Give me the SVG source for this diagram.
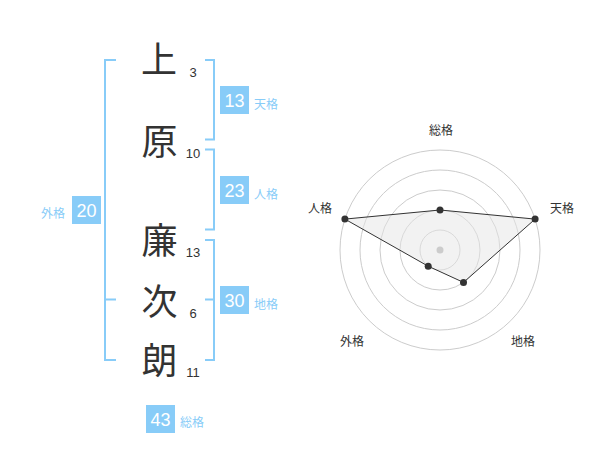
<svg xmlns="http://www.w3.org/2000/svg" width="600" height="470" viewBox="0 0 600 470">
<style>
.kanji{font-family:"Noto Sans CJK JP","Noto Sans CJK SC",sans-serif;font-size:36px;fill:#333;text-anchor:middle}
.num{font-family:"Liberation Sans",Arial,sans-serif;font-size:13px;fill:#333;text-anchor:middle}
.br{fill:none;stroke:#88CCF8;stroke-width:2}
.box{fill:#88CCF8}
.bt{font-family:"Liberation Sans",Arial,sans-serif;font-size:18px;fill:#fff;text-anchor:middle}
.lb{font-family:"Noto Sans CJK JP","Noto Sans CJK SC",sans-serif;font-size:12px;fill:#88CCF8}
.rl{font-family:"Noto Sans CJK JP","Noto Sans CJK SC",sans-serif;font-size:12px;fill:#333;text-anchor:middle}
.ring{fill:none;stroke:#ccc;stroke-width:1}
.pt{fill:#333}
</style>
<rect width="600" height="470" fill="#fff"/>
<g id="name">
<g id="c1"><text class="kanji" x="159" y="72.5">上</text><text class="num" x="193" y="77.4">3</text></g>
<g id="c2"><text class="kanji" x="159.5" y="155">原</text><text class="num" x="193" y="157.7">10</text></g>
<g id="c3"><text class="kanji" x="159.5" y="254">廉</text><text class="num" x="193" y="257.4">13</text></g>
<g id="c4"><text class="kanji" x="159.5" y="315">次</text><text class="num" x="193" y="317.7">6</text></g>
<g id="c5"><text class="kanji" x="159.5" y="374">朗</text><text class="num" x="193" y="377.4">11</text></g>
</g>
<g id="connectors">
<path class="br" d="M116,60 H105 V360 H116 M105,299.5 H116"/>
<path class="br" d="M205,60 H214 V139.5 H205"/>
<path class="br" d="M205,149.5 H214 V229.5 H205"/>
<path class="br" d="M205,240 H214 V360 H205 M205,299.5 H214"/>
</g>
<g id="tenkaku"><rect class="box" x="220" y="86" width="29" height="28"/><text class="bt" x="234.5" y="106.6">13</text><text class="lb" x="254" y="108.5">天格</text></g>
<g id="jinkaku"><rect class="box" x="220" y="176" width="29" height="28"/><text class="bt" x="234.5" y="196.6">23</text><text class="lb" x="254" y="198.5">人格</text></g>
<g id="chikaku"><rect class="box" x="220" y="286" width="29" height="28"/><text class="bt" x="234.5" y="306.6">30</text><text class="lb" x="254" y="308.5">地格</text></g>
<g id="gaikaku"><rect class="box" x="72" y="196" width="29" height="28"/><text class="bt" x="86.5" y="216.6">20</text><text class="lb" x="41" y="217.5">外格</text></g>
<g id="soukaku"><rect class="box" x="146" y="405" width="29" height="28"/><text class="bt" x="160.5" y="425.6">43</text><text class="lb" x="180" y="427">総格</text></g>
<g id="radar">
<circle class="ring" cx="440" cy="250" r="20"/>
<circle class="ring" cx="440" cy="250" r="40"/>
<circle class="ring" cx="440" cy="250" r="60"/>
<circle class="ring" cx="440" cy="250" r="80"/>
<circle class="ring" cx="440" cy="250" r="100"/>
<polygon points="440,210 535.1,219.1 463.5,282.4 428.2,266.2 344.9,219.1" fill="#e6e6e6" fill-opacity="0.5" stroke="#333" stroke-width="1"/>
<circle cx="440" cy="250" r="3.5" fill="#ccc"/>
<circle class="pt" cx="440" cy="210" r="3.5"/>
<circle class="pt" cx="535.1" cy="219.1" r="3.5"/>
<circle class="pt" cx="463.5" cy="282.4" r="3.5"/>
<circle class="pt" cx="428.2" cy="266.2" r="3.5"/>
<circle class="pt" cx="344.9" cy="219.1" r="3.5"/>
<text class="rl" x="441" y="134.5">総格</text>
<text class="rl" x="562" y="212.5">天格</text>
<text class="rl" x="320" y="212.5">人格</text>
<text class="rl" x="352" y="346">外格</text>
<text class="rl" x="523" y="346">地格</text>
</g>
</svg>
